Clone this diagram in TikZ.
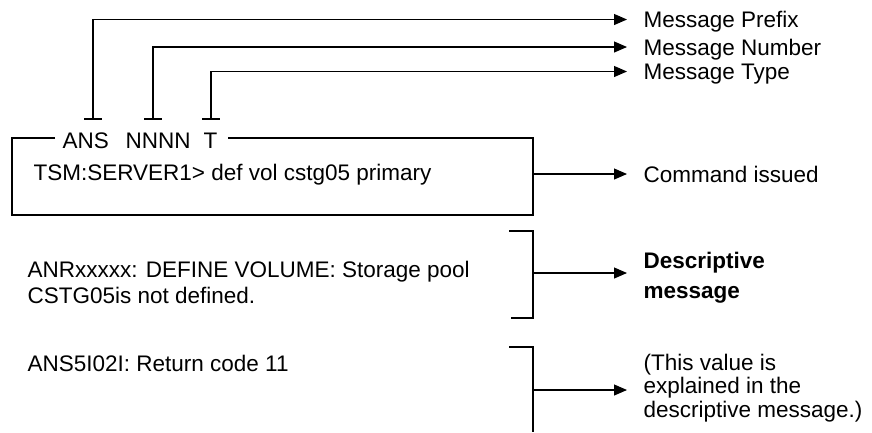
\documentclass[tikz,border=0pt]{standalone}
\usepackage{fontspec}
\setmainfont{Liberation Sans}
\usetikzlibrary{arrows.meta}
\begin{document}
\begin{tikzpicture}[x=1pt,y=-1pt,
  line width=1.1pt,
  arr/.style={-{Triangle[length=13pt,width=11pt]}},
  txt/.style={font=\fontsize{22.5}{26}\selectfont, inner sep=0pt, anchor=base west},
  rlbl/.style={font=\fontsize{22.5}{26}\selectfont, inner ysep=0pt, inner xsep=16pt, text height=16pt, text depth=0pt, anchor=west},
  rblk/.style={font=\fontsize{22.5}{26}\selectfont, inner ysep=0pt, inner xsep=16pt, anchor=base west},
]
\useasboundingbox (0,0) rectangle (872,432);

% right-hand labels
\node[rlbl] (prefix) at (627,19.5) {Message Prefix};
\node[rlbl] (number) at (627,47) {Message Number};
\node[rlbl] (type) at (627,71.5) {Message Type};
\node[rlbl] (cmd) at (627,174) {Command issued};
\node[rblk,font=\fontsize{22.5}{26}\selectfont\bfseries] (desc) at (627,268)
  {\vtop{\baselineskip=30pt\hbox{Descriptive}\hbox{message}}};
\node[rblk] (note) at (627,370)
  {\vtop{\baselineskip=23.5pt\hbox{(This value is}\hbox{explained in the}\hbox{descriptive message.)}}};

% header letters
\node[txt] (ans) at (62,148) {ANS};
\node[txt] (nnnn) at (125,148) {NNNN};
\node[txt] (typ) at (203,148) {T};

% tick marks and connectors
\coordinate (t1) at (93,119);
\coordinate (t2) at (153,119);
\coordinate (t3) at (211,119);
\foreach \t in {t1,t2,t3}{
  \draw ([xshift=-9pt]\t) -- ([xshift=9pt]\t);
}
\draw[arr] (t1) |- (prefix.west);
\draw[arr] (t2) |- (number.west);
\draw[arr] (t3) |- (type.west);

% command box
\coordinate (bl) at (12,215);
\coordinate (br) at (533,215);
\coordinate (tl) at (12,138);
\coordinate (tr) at (533,138);
\draw (55,138) -- (tl) -- (bl) -- (br) -- (tr) -- (228,138);
\node[txt] (tsm) at (33,180) {TSM:SERVER1> def vol cstg05 primary};
\coordinate (cmdmid) at (533,174);
\draw[arr] (cmdmid) -- (cmd.west);

% descriptive message bracket
\node[txt] (anr) at (27,277)
  {\vtop{\baselineskip=26pt\hbox{ANRxxxxx: DEFINE VOLUME: Storage pool}\hbox{CSTG05is not defined.}}};
\coordinate (b1t) at (533,231);
\coordinate (b1b) at (533,318);
\draw (509,231) -- (b1t) -- (b1b) -- (511,318);
\coordinate (b1m) at (533,273);
\draw[arr] (b1m) -- (desc.west |- b1m);

% return code bracket
\node[txt] (rc) at (27,371) {ANS5I02I: Return code 11};
\coordinate (b2t) at (533,347);
\coordinate (b2b) at (533,432);
\draw (509,347) -- (b2t) -- (b2b);
\coordinate (b2m) at (533,390);
\draw[arr] (b2m) -- (note.west |- b2m);
\end{tikzpicture}
\end{document}
